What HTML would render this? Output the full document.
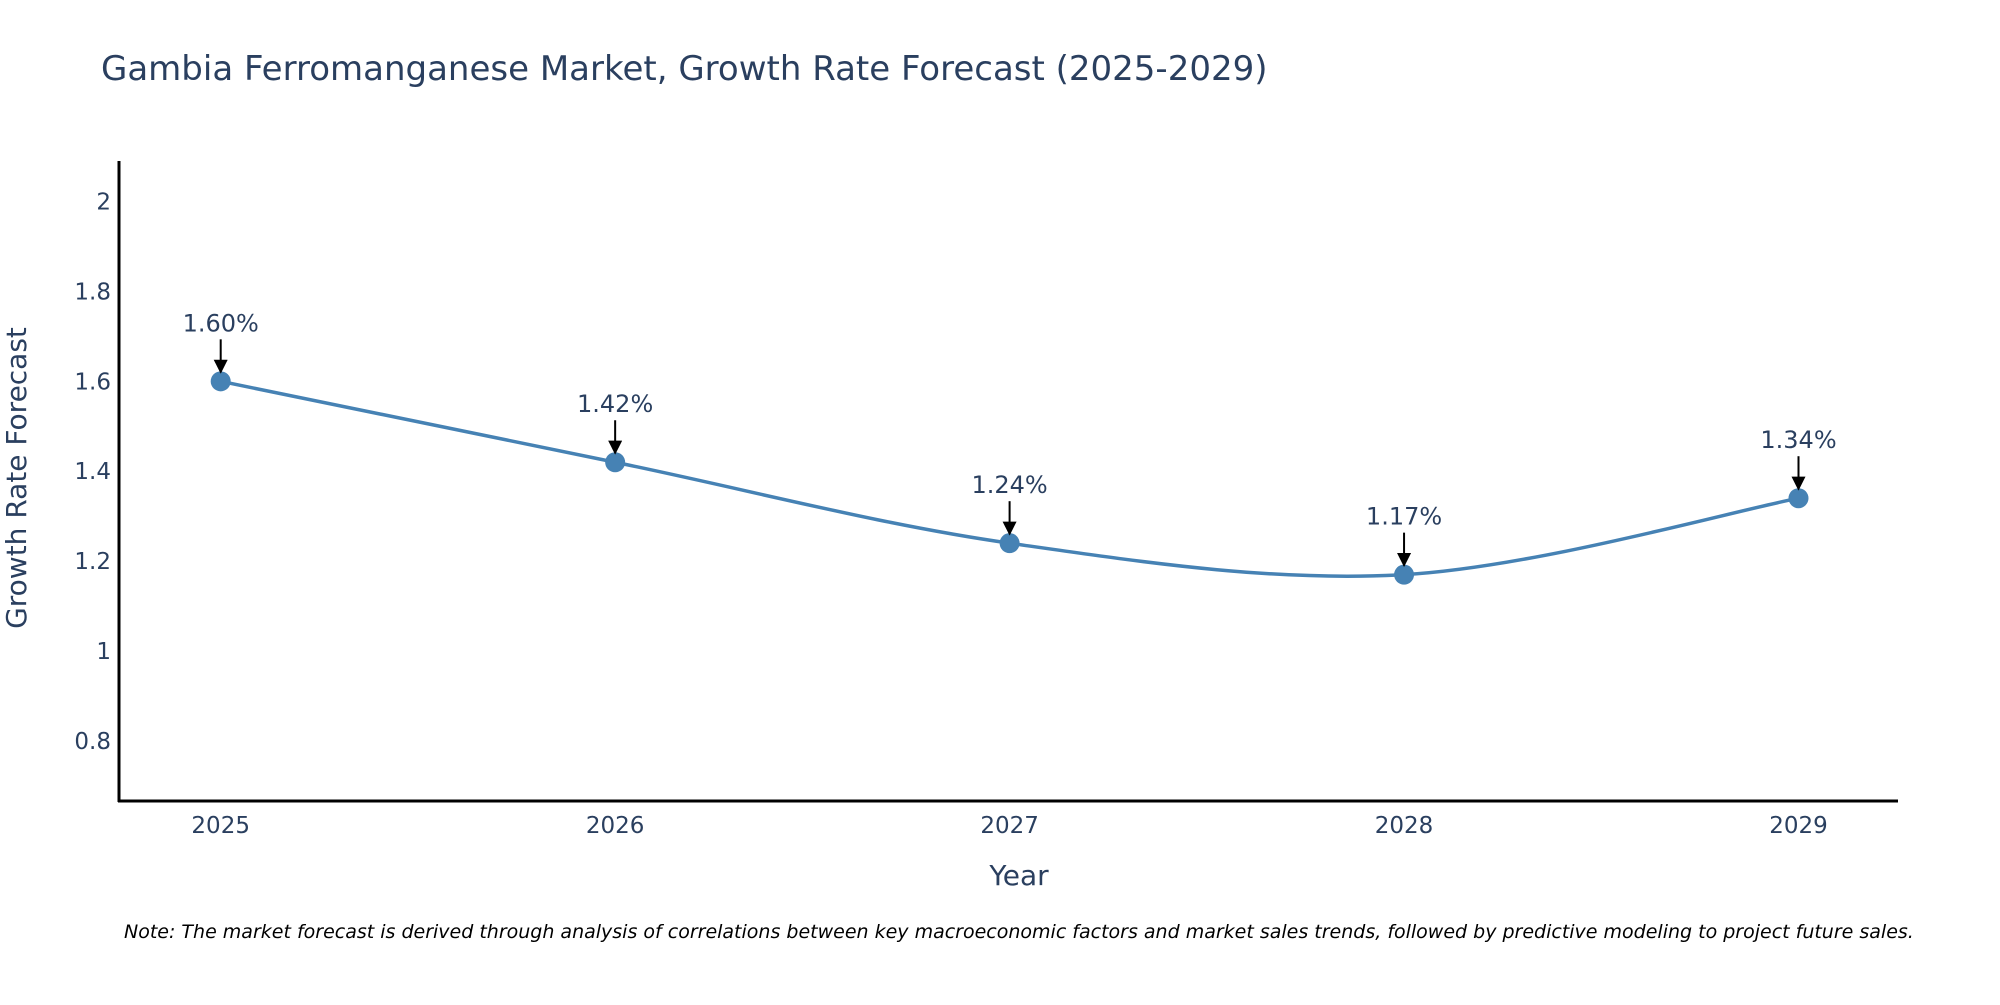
<!DOCTYPE html>
<html><head><meta charset="utf-8"><style>
body{margin:0;background:#fff;}
svg text{font-family:"DejaVu Sans","Liberation Sans",sans-serif;fill:#2a3f5f;}
</style></head><body>
<svg width="2000" height="1000" xmlns="http://www.w3.org/2000/svg">
<defs><marker id="ah" viewBox="0 0 10 10" refX="9" refY="5" markerWidth="7" markerHeight="7" orient="auto"><path d="M0,0 L10,5 L0,10 z" fill="#000"/></marker></defs>
<text x="101" y="80" font-size="34">Gambia Ferromanganese Market, Growth Rate Forecast (2025-2029)</text>
<g id="yticks"></g>
<g id="xticks"></g>
<line x1="119" y1="161" x2="119" y2="802" stroke="#000" stroke-width="3"/>
<line x1="118" y1="801" x2="1898" y2="801" stroke="#000" stroke-width="3"/>
<path id="line" fill="none" stroke="#4682b4" stroke-width="3.5"/>
<g id="marks"></g>
<text x="26" y="478" font-size="28" text-anchor="middle" transform="rotate(-90 26 478)">Growth Rate Forecast</text>
<text x="1019" y="885" font-size="28" text-anchor="middle">Year</text>
<text x="124" y="938" font-size="19" font-style="italic" style="fill:#000">Note: The market forecast is derived through analysis of correlations between key macroeconomic factors and market sales trends, followed by predictive modeling to project future sales.</text>
</svg>
<script>
const years=[2025,2026,2027,2028,2029];
const values=[1.60,1.42,1.24,1.17,1.34];
const labels=["1.60%","1.42%","1.24%","1.17%","1.34%"];
const yTicks=[0.8,1,1.2,1.4,1.6,1.8,2];
const yTickLabels=["0.8","1","1.2","1.4","1.6","1.8","2"];
const NS="http://www.w3.org/2000/svg";
function xs(v){return 220.7+(v-2025)*394.45;}
function ys(v){return 741-(v-0.8)*449.6;}
function mk(t,a,p){const e=document.createElementNS(NS,t);for(const k in a)e.setAttribute(k,a[k]);p.appendChild(e);return e;}
const yt=document.getElementById('yticks');
yTicks.forEach((v,i)=>{const t=mk('text',{x:111,y:ys(v)+8,'font-size':23,'text-anchor':'end'},yt);t.textContent=yTickLabels[i];

});
const xt=document.getElementById('xticks');
years.forEach(v=>{const t=mk('text',{x:xs(v),y:833,'font-size':23,'text-anchor':'middle'},xt);t.textContent=String(v);

});
const P=years.map((y,i)=>[xs(y),ys(values[i])]);
let d='M'+P[0][0]+','+P[0][1];const s=1/6;
for(let i=0;i<P.length-1;i++){const p0=P[Math.max(0,i-1)],p1=P[i],p2=P[i+1],p3=P[Math.min(P.length-1,i+2)];
d+=' C'+(p1[0]+(p2[0]-p0[0])*s)+','+(p1[1]+(p2[1]-p0[1])*s)+' '+(p2[0]-(p3[0]-p1[0])*s)+','+(p2[1]-(p3[1]-p1[1])*s)+' '+p2[0]+','+p2[1];}
document.getElementById('line').setAttribute('d',d);
const g=document.getElementById('marks');
P.forEach((p,i)=>{const c=mk('circle',{cx:p[0],cy:p[1],r:10,fill:'#4682b4'},g);


const a=mk('line',{x1:p[0],y1:p[1]-42,x2:p[0],y2:p[1]-9,stroke:'#000','stroke-width':2,'marker-end':'url(#ah)'},g);


const t=mk('text',{x:p[0],y:p[1]-50,'font-size':24,'text-anchor':'middle'},g);t.textContent=labels[i];

});
</script>
</body></html>
